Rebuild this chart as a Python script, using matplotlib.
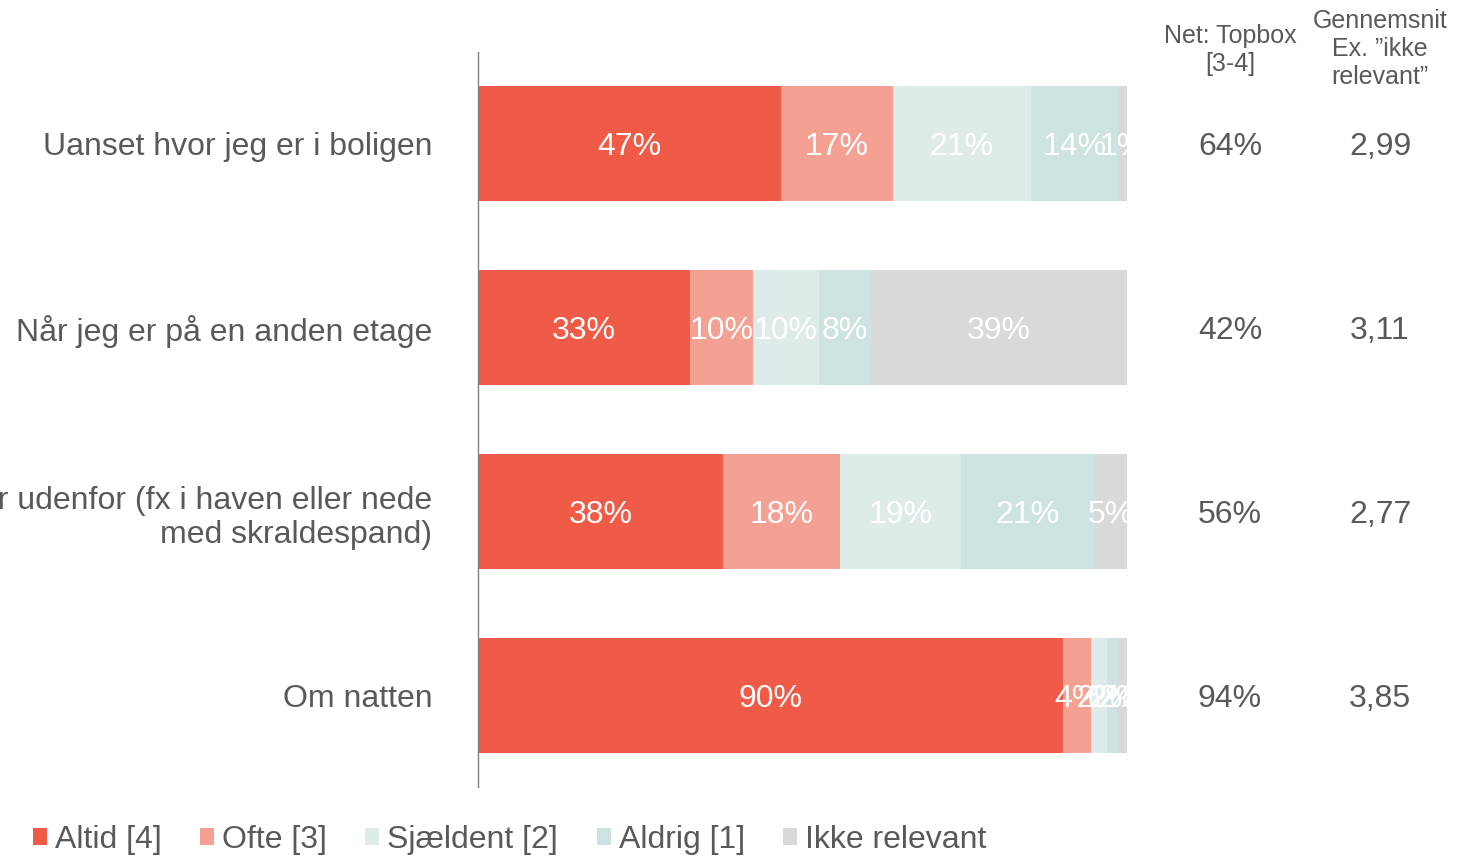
import matplotlib.pyplot as plt
import numpy as np

plt.rcParams['font.family'] = ['Liberation Sans', 'DejaVu Sans']

categories = ['Uanset hvor jeg er i boligen',
              'Når jeg er på en anden etage',
              'Når jeg er udenfor (fx i haven eller nede\nmed skraldespand)',
              'Om natten']
series = ['Altid [4]', 'Ofte [3]', 'Sjældent [2]', 'Aldrig [1]', 'Ikke relevant']
altid = [46.7, 32.7, 37.8, 90.1]
ofte = [17.2, 9.7, 18.0, 4.4]
sjaeldent = [21.3, 10.1, 18.6, 2.4]
aldrig = [13.6, 8.1, 20.6, 1.5]
ikke_relevant = [1.2, 39.4, 5.0, 1.6]
topbox = ['64%', '42%', '56%', '94%']
gennemsnit = ['2,99', '3,11', '2,77', '3,85']

colors = ['#EF5B47', '#F4A093', '#DDECEA', '#CDE3E1', '#D9D9D9']
grey = '#595959'

fig = plt.figure(figsize=(14.66, 8.58), dpi=100)
ax = fig.add_axes([478/1466, 1-787/858, (1127-478)/1466, (787-52)/858])

y = np.arange(len(categories))
left = np.zeros(len(categories))
for name, vals, col in zip(series, [altid, ofte, sjaeldent, aldrig, ikke_relevant], colors):
    vals = np.array(vals)
    ax.barh(y, vals, left=left, height=0.625, color=col, label=name)
    for yi, l, v in zip(y, left, vals):
        ax.text(l + v/2, yi, '%d%%' % round(v), ha='center', va='center_baseline',
                color='white', fontsize=23, clip_on=True)
    left = left + vals

ax.set_xlim(0, 100)
ax.set_ylim(len(categories) - 0.5, -0.5)
ax.set_yticks(y)
ax.set_yticklabels(categories, fontsize=23, color=grey, linespacing=1.15)
ax.tick_params(axis='y', length=0, pad=33)
ax.set_xticks([])
for s in ['top', 'right', 'bottom']:
    ax.spines[s].set_visible(False)
ax.spines['left'].set_color('#808080')
ax.spines['left'].set_linewidth(1)

# right-hand columns
for yi, t, g in zip(y, topbox, gennemsnit):
    ax.text(1.1587, yi, t, transform=ax.get_yaxis_transform(), ha='center', va='center_baseline',
            fontsize=23, color=grey, clip_on=False)
    ax.text(1.390, yi, g, transform=ax.get_yaxis_transform(), ha='center', va='center_baseline',
            fontsize=23, color=grey, clip_on=False)
fig.text(1230/1466, 1-50/858, 'Net: Topbox\n[3-4]', ha='center', va='center',
         fontsize=18, color=grey, linespacing=1.23)
fig.text(1380/1466, 1-49/858, 'Gennemsnit\nEx. \u201dikke\nrelevant\u201d', ha='center', va='center',
         fontsize=18, color=grey, linespacing=1.23)

fig.legend(loc='lower left', bbox_to_anchor=(33/1466, 0.004), ncol=5, frameon=False,
           fontsize=23, handlelength=0.44, handleheight=0.44, handletextpad=0.25,
           columnspacing=1.2, labelcolor=grey, borderpad=0, borderaxespad=0)

plt.savefig('out.png', dpi=100)
